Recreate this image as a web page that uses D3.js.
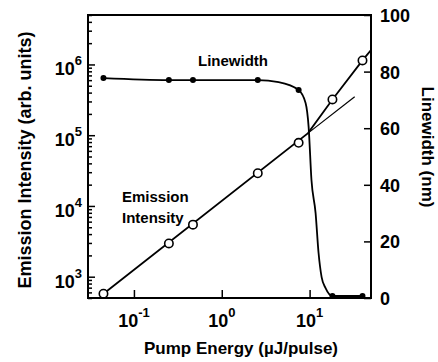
<!DOCTYPE html>
<html>
<head>
<meta charset="utf-8">
<script src="https://cdn.jsdelivr.net/npm/d3@7"></script>
<style>
body { margin: 0; background: #fff; }
text { font-family: Arial, "Liberation Sans", Helvetica, sans-serif; fill: #000; }
</style>
</head>
<body>
<div id="chart"></div>
<script>
// measured points
const energy = [0.045, 0.25, 0.47, 2.57, 7.5, 18.2, 40];
const intensity = [575, 2950, 5440, 29000, 78000, 320000, 1140000];
const linewidth = [77.7, 77.0, 77.0, 77.0, 73.5, 0.7, 0.7];

// guide lines
const emCurveE = [0.045, 9.6, 18.2, 40, 50];
const emCurveI = [575, 107000, 320000, 1140000, 1600000];
const fitE = [9.6, 32.6];
const fitI = [107000, 350000];
const lwCurveE = [0.045, 0.25, 0.47, 2.57, 4.44, 7.5, 9.0, 9.75, 10.5, 11.7, 12.65, 13.7, 15.2, 18.2, 40];
const lwCurveW = [77.7, 77.0, 77.0, 77.0, 76.3, 73.5, 68.9, 60.4, 41.7, 30.0, 15.9, 7.4, 3.5, 0.7, 0.7];

// ticks
const xTicks = [0.1, 1, 10];
const xTickExp = ["-1", "0", "1"];
const yTicks = [1e3, 1e4, 1e5, 1e6];
const yTickExp = ["3", "4", "5", "6"];
const y2Ticks = [0, 20, 40, 60, 80, 100];

const W = 438, H = 362;
const margin = {top: 15, right: 67, bottom: 64, left: 88};
const w = W - margin.left - margin.right;
const h = H - margin.top - margin.bottom;

const svg = d3.select("#chart").append("svg")
	.attr("width", W)
	.attr("height", H);
const g = svg.append("g")
	.attr("transform", "translate(" + margin.left + "," + margin.top + ")");

let x = d3.scaleLog().domain([0.03, 50]).range([0, w]);
let y = d3.scaleLog().domain([500, 5e6]).range([h, 0]);
let y2 = d3.scaleLinear().domain([0, 100]).range([h, 0]);

g.append("clipPath").attr("id", "clip")
	.append("rect").attr("width", w).attr("height", h);

// left axis: minor + major ticks, inside
let yMinor = [];
for (let d = 100; d <= 1e6; d *= 10) {
	for (let k = 2; k <= 9; k++) {
		let v = d * k;
		if (v >= 500 && v <= 5e6) yMinor.push(v);
	}
}
let yAxis = d3.axisLeft(y).tickValues(yMinor).tickSize(-4).tickFormat("");
g.append("g").attr("class", "y minor").call(yAxis);
g.append("g").attr("class", "y major")
	.call(d3.axisLeft(y).tickValues(yTicks).tickSize(-7).tickFormat(""));

let xAxis = d3.axisBottom(x).tickValues(xTicks).tickSize(-8).tickFormat("");
g.append("g").attr("class", "x axis")
	.attr("transform", "translate(0," + h + ")")
	.call(xAxis);

let y2Axis = d3.axisRight(y2).tickValues(y2Ticks).tickSize(-7).tickFormat("");
g.append("g").attr("class", "y2 axis")
	.attr("transform", "translate(" + w + ",0)")
	.call(y2Axis);

g.selectAll(".domain").remove();
g.selectAll(".tick line").attr("stroke", "#000").attr("stroke-width", 1.5);

// frame
g.append("rect")
	.attr("width", w).attr("height", h)
	.attr("fill", "none").attr("stroke", "#000").attr("stroke-width", 2);

// tick labels with superscripts
const big = 18, small = 13;
yTicks.forEach((v, i) => {
	let t = g.append("text")
		.attr("x", -6).attr("y", y(v) + 11)
		.attr("text-anchor", "end")
		.style("font-size", big + "px").style("font-weight", "bold");
	t.append("tspan").text("10");
	t.append("tspan").attr("dy", -10).style("font-size", small + "px").text(yTickExp[i]);
});
xTicks.forEach((v, i) => {
	let t = g.append("text")
		.attr("x", x(v)).attr("y", h + 29)
		.attr("text-anchor", "middle")
		.style("font-size", big + "px").style("font-weight", "bold");
	t.append("tspan").text("10");
	t.append("tspan").attr("dy", -10).style("font-size", small + "px").text(xTickExp[i]);
});
y2Ticks.forEach(v => {
	g.append("text")
		.attr("x", w + 9).attr("y", y2(v) + 7)
		.style("font-size", big + "px").style("font-weight", "bold")
		.text(v);
});

// axis titles
svg.append("text")
	.attr("transform", "translate(31,160) rotate(-90)")
	.attr("text-anchor", "middle")
	.style("font-size", "18px").style("font-weight", "bold")
	.text("Emission Intensity (arb. units)");
svg.append("text")
	.attr("transform", "translate(422,147) rotate(90)")
	.attr("text-anchor", "middle")
	.style("font-size", "17px").style("font-weight", "bold")
	.text("Linewidth (nm)");
svg.append("text")
	.attr("x", 241).attr("y", 354)
	.attr("text-anchor", "middle")
	.style("font-size", "17px").style("font-weight", "bold")
	.text("Pump Energy (\u00b5J/pulse)");

// lines
let plot = g.append("g").attr("clip-path", "url(#clip)");

let lineE = d3.line()
	.x(d => x(d[0]))
	.y(d => y(d[1]));
let lineW = d3.line()
	.x(d => x(d[0]))
	.y(d => y2(d[1]))
	.curve(d3.curveMonotoneX);

plot.append("path")
	.attr("d", lineE(d3.zip(fitE, fitI)))
	.attr("fill", "none").attr("stroke", "#000").attr("stroke-width", 1.2);
plot.append("path")
	.attr("d", lineE(d3.zip(emCurveE, emCurveI)))
	.attr("fill", "none").attr("stroke", "#000").attr("stroke-width", 1.8);
plot.append("path")
	.attr("d", lineW(d3.zip(lwCurveE, lwCurveW)))
	.attr("fill", "none").attr("stroke", "#000").attr("stroke-width", 1.8);

// points
g.selectAll("circle.em")
	.data(d3.zip(energy, intensity))
	.enter().append("circle")
	.attr("class", "em")
	.attr("cx", d => x(d[0]))
	.attr("cy", d => y(d[1]))
	.attr("r", 4.2)
	.attr("fill", "#fff").attr("stroke", "#000").attr("stroke-width", 1.6);
g.selectAll("circle.lw")
	.data(d3.zip(energy, linewidth))
	.enter().append("circle")
	.attr("class", "lw")
	.attr("cx", d => x(d[0]))
	.attr("cy", d => y2(d[1]))
	.attr("r", 3)
	.attr("fill", "#000");

// annotations
svg.append("text")
	.attr("x", 198).attr("y", 66)
	.style("font-size", "15px").style("font-weight", "bold")
	.text("Linewidth");
svg.append("text")
	.attr("x", 122).attr("y", 202)
	.style("font-size", "15px").style("font-weight", "bold")
	.text("Emission");
svg.append("text")
	.attr("x", 122).attr("y", 223)
	.style("font-size", "15px").style("font-weight", "bold")
	.text("Intensity");
</script>
</body>
</html>
